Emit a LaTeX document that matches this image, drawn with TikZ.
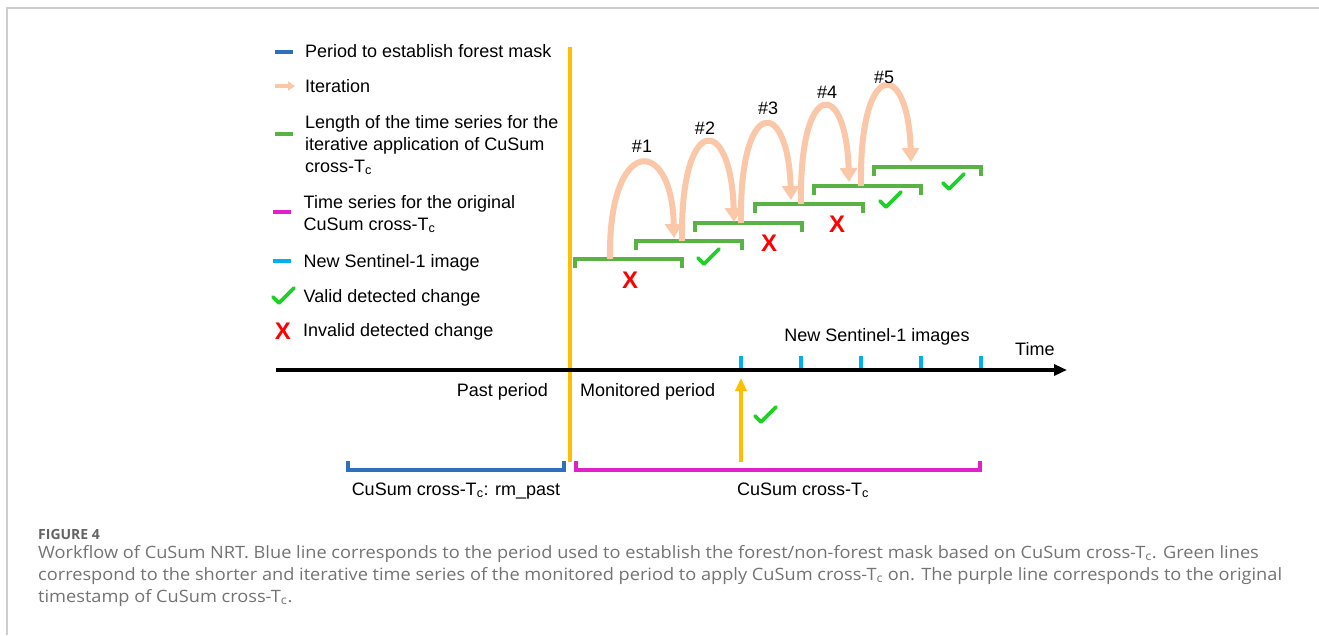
\documentclass[tikz,border=0pt]{standalone}
\usepackage{fontspec}
\usepackage{graphicx}
\setmainfont{Liberation Sans}
\newfontfamily\capfont{Open Sans}
\usetikzlibrary{arrows.meta}
\definecolor{cblue}{RGB}{46,112,190}
\definecolor{cpeach}{RGB}{250,200,168}
\definecolor{cgreen}{RGB}{88,178,68}
\definecolor{cmag}{RGB}{224,32,200}
\definecolor{ccyan}{RGB}{0,176,240}
\definecolor{cchk}{RGB}{30,208,40}
\definecolor{cred}{RGB}{255,0,0}
\definecolor{corange}{RGB}{255,190,0}
\definecolor{cframe}{RGB}{205,205,205}
\definecolor{ccap}{RGB}{115,115,115}
\definecolor{ccaphead}{RGB}{100,100,100}
\newcommand\Tsub{T\textsubscript{c}}
\newcommand\capline[1]{\scalebox{1.07}[1]{#1}}
\begin{document}
\begin{tikzpicture}[x=1pt,y=-1pt,
  txt/.style={inner sep=0pt, font=\fontsize{18}{21}\selectfont},
  capt/.style={inner sep=0pt, text=ccap, font=\capfont\fontsize{17}{21}\selectfont},
  caphead/.style={inner sep=0pt, text=ccaphead, font=\capfont\bfseries\fontsize{14}{16}\selectfont},
  grnbr/.style={draw=cgreen, line width=4pt},
  iter/.style={draw=cpeach, line width=6pt, -{Triangle[length=14pt,width=17pt]}},
  xmark/.style={inner sep=0pt, text=cred, font=\bfseries\fontsize{24}{26}\selectfont},
  chk/.pic={\draw[cchk, line width=3.8pt, line cap=round, line join=round] (-10,1) -- (-4,7) -- (11,-8);},
  legdash/.style={line width=4pt},
]
\useasboundingbox (0,0) rectangle (1319,635);
% frame
\draw[cframe, line width=2pt] (7,635) -- (7,8) -- (1319,8);

% ---------------- legend ----------------
\draw[legdash, cblue] (275,52) -- (293,52);
\node[txt, anchor=base west] (l1) at (305,57) {Period to establish forest mask};
\draw[cpeach, line width=4pt, -{Triangle[length=7pt,width=9pt]}] (275,86) -- (295,86);
\node[txt, anchor=base west] (l2) at (305,92) {Iteration};
\draw[legdash, cgreen] (275,134) -- (293,134);
\node[txt, anchor=base west] (l3a) at (305,128) {Length of the time series for the};
\node[txt, anchor=base west] (l3b) at (305,150) {iterative application of CuSum};
\node[txt, anchor=base west] (l3c) at (305,172) {cross-\Tsub};
\draw[legdash, cmag] (273,212) -- (291,212);
\node[txt, anchor=base west] (l4a) at (303.5,208) {Time series for the original};
\node[txt, anchor=base west] (l4b) at (303.5,230) {CuSum cross-\Tsub};
\draw[legdash, ccyan] (273,261) -- (291,261);
\node[txt, anchor=base west] (l5) at (303.5,267) {New Sentinel-1 image};
\pic at (283,296) {chk};
\node[txt, anchor=base west] (l6) at (303.5,302) {Valid detected change};
\node[xmark] (lx) at (283,331) {X};
\node[txt, anchor=base west] (l7) at (303,336) {Invalid detected change};

% ---------------- divider & axis ----------------
\coordinate (vtop) at (570,47);
\coordinate (vbot) at (570,462);
\draw[corange, line width=3.2pt] (vtop) -- (vbot);
\coordinate (ax0) at (276,370);
\coordinate (ax1) at (1067,370);
\draw[black, line width=3.5pt, -{Triangle[length=13pt,width=11pt]}] (ax0) -- (ax1);
\node[txt, anchor=base west] (time) at (1015,355) {Time};
\node[txt, anchor=base] (nsi) at (877,341) {New Sentinel-1 images};
\foreach \xx in {741,801,861,921,981}
  \draw[ccyan, line width=3.5pt] (\xx,356) -- (\xx,368);
\node[txt, anchor=base east] (past) at (548,396) {Past period};
\node[txt, anchor=base west] (mon) at (580,396) {Monitored period};
\coordinate (ua0) at (741,462);
\coordinate (ua1) at (741,378);
\draw[corange, line width=3.2pt, -{Triangle[length=13pt,width=11pt]}] (ua0) -- (ua1);
\pic at (765,415) {chk};

% bottom brackets
\draw[cblue, line width=3.5pt] (348,461) -- (348,470) -- (564,470) -- (564,461);
\draw[cmag, line width=3.5pt] (576,461) -- (576,470) -- (980,470) -- (980,461);
\node[txt, anchor=base] (b1) at (456,495) {CuSum cross-\Tsub: rm\_past};
\node[txt, anchor=base] (b2) at (803,495) {CuSum cross-\Tsub};

% ---------------- iterations ----------------
\draw[grnbr] (575,268) -- (575,259) -- (682,259) -- (682,268);
\draw[grnbr] (636,250) -- (636,241) -- (742,241) -- (742,250);
\draw[grnbr] (695,232) -- (695,223) -- (802,223) -- (802,232);
\draw[grnbr] (755,213) -- (755,204) -- (863,204) -- (863,213);
\draw[grnbr] (814,195) -- (814,186) -- (921,186) -- (921,195);
\draw[grnbr] (874,176) -- (874,167) -- (981,167) -- (981,176);

\coordinate (s1) at (610,259); \coordinate (t1) at (674,238);
\coordinate (s2) at (682,241); \coordinate (t2) at (734,222);
\coordinate (s3) at (741,223); \coordinate (t3) at (791,200);
\coordinate (s4) at (801,204); \coordinate (t4) at (849,182);
\coordinate (s5) at (861,186); \coordinate (t5) at (911,162);
\draw[iter] (s1) .. controls (608,135) and (672,135) .. (t1);
\draw[iter] (s2) .. controls (680,113) and (731,113) .. (t2);
\draw[iter] (s3) .. controls (739,96) and (788,96) .. (t3);
\draw[iter] (s4) .. controls (799,78) and (846,78) .. (t4);
\draw[iter] (s5) .. controls (859,58) and (908,58) .. (t5);
\node[txt] (n1) at (642,146) {\#1};
\node[txt] (n2) at (705,128) {\#2};
\node[txt] (n3) at (768,108) {\#3};
\node[txt] (n4) at (827,92) {\#4};
\node[txt] (n5) at (884,77) {\#5};

\node[xmark] (x1) at (630,280) {X};
\node[xmark] (x2) at (769,243) {X};
\node[xmark] (x3) at (837,224) {X};
\pic at (708,257) {chk};
\pic at (890,200) {chk};
\pic at (953,182) {chk};

% ---------------- caption ----------------
\node[caphead, anchor=base west] (cap0) at (38,539) {FIGURE 4};
\node[capt, anchor=base west] (cap1) at (38,558) {\capline{Workflow of CuSum NRT. Blue line corresponds to the period used to establish the forest/non-forest mask based on CuSum cross-\Tsub. Green lines}};
\node[capt, anchor=base west] (cap2) at (38,580) {\capline{correspond to the shorter and iterative time series of the monitored period to apply CuSum cross-\Tsub{} on. The purple line corresponds to the original}};
\node[capt, anchor=base west] (cap3) at (38,602) {\capline{timestamp of CuSum cross-\Tsub.}};
\end{tikzpicture}
\end{document}
